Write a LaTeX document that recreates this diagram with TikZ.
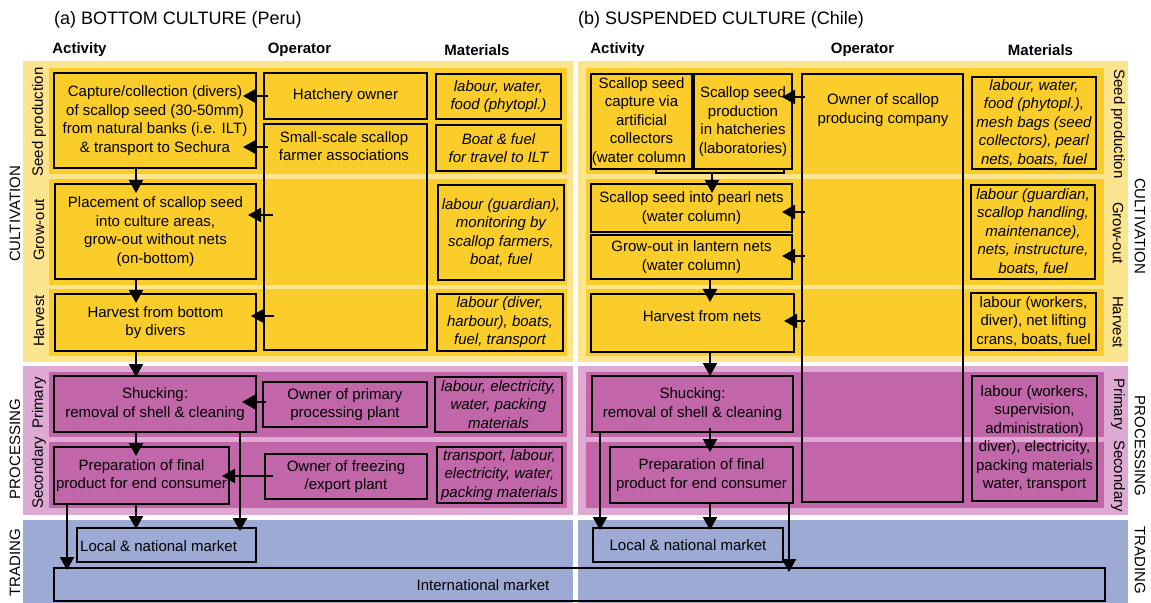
\documentclass[tikz,border=0pt]{standalone}
\usepackage{fontspec}
\setmainfont{Liberation Sans}
\usetikzlibrary{arrows.meta,calc}
\definecolor{ly}{HTML}{FDE48E}
\definecolor{dy}{HTML}{FACD2A}
\definecolor{lp}{HTML}{DEAAD4}
\definecolor{dp}{HTML}{C166A8}
\definecolor{bl}{HTML}{9CAAD4}
\newcommand\mybx[7][]{\node[box,#1,minimum width={(#5-#3)*1bp},minimum height={(#6-#4)*1bp}] (#2) at ({(#3+#5)/2},{(#4+#6)/2}) {#7};}
\tikzset{
  box/.style={draw, line width=2.8bp, inner sep=0pt, outer sep=0pt, align=center, font=\fontsize{15bp}{18.5bp}\selectfont},
  mat/.style={font=\fontsize{15bp}{18.5bp}\selectfont\itshape},
  txt/.style={inner sep=0pt, align=center, font=\fontsize{15bp}{18.5bp}\selectfont},
  ttl/.style={inner sep=0pt, anchor=west, font=\fontsize{18bp}{21bp}\selectfont},
  hdr/.style={inner sep=0pt, font=\fontsize{15bp}{18bp}\selectfont\bfseries},
  side/.style={inner sep=0pt, font=\fontsize{15bp}{18bp}\selectfont},
  arr/.style={line width=2.3bp, -{Triangle[length=13bp,width=14bp]}}
}
\begin{document}
\begin{tikzpicture}[x=1bp,y=-1bp]
\useasboundingbox (0,0) rectangle (1151,603);
% ---- bands ----
\fill[ly] (23,61) rectangle (573,362);
\fill[ly] (578,61) rectangle (1128,362);
\foreach \ya/\yb in {68/174,179/285,289/356}{
  \fill[dy] (49,\ya) rectangle (567,\yb);
  \fill[dy] (586,\ya) rectangle (1104,\yb);
}
\fill[lp] (23,366) rectangle (573,515);
\fill[lp] (578,366) rectangle (1128,515);
\foreach \ya/\yb in {372/437,442/508}{
  \fill[dp] (49,\ya) rectangle (567,\yb);
  \fill[dp] (586,\ya) rectangle (1104,\yb);
}
\fill[bl] (23,520) rectangle (573,603);
\fill[bl] (578,520) rectangle (1128,603);
% ---- titles and headers ----
\node[ttl] (ta) at (54,20) {(a) BOTTOM CULTURE (Peru)};
\node[ttl] (tb) at (578,20) {(b) SUSPENDED CULTURE (Chile)};
\node[hdr] (h1) at (79.5,50) {Activity};
\node[hdr] (h2) at (299.5,50) {Operator};
\node[hdr] (h3) at (477,50) {Materials};
\node[hdr] (h4) at (617.5,50) {Activity};
\node[hdr] (h5) at (862.5,50) {Operator};
\node[hdr] (h6) at (1040.5,50) {Materials};
% ---- side labels ----
\node[side,rotate=90] (sl1) at (15,214) {CULTIVATION};
\node[side,rotate=90] (sl2) at (15,449) {PROCESSING};
\node[side,rotate=90] (sl3) at (15,563) {TRADING};
\node[side,rotate=90] (sl4) at (39,122) {Seed production};
\node[side,rotate=90] (sl5) at (39,230) {Grow-out};
\node[side,rotate=90] (sl6) at (39,321) {Harvest};
\node[side,rotate=90] (sl7) at (39,403) {Primary};
\node[side,rotate=90] (sl8) at (39,473) {Secondary};
\node[side,rotate=-90] (sr1) at (1140,226) {CULTIVATION};
\node[side,rotate=-90] (sr2) at (1140,446) {PROCESSING};
\node[side,rotate=-90] (sr3) at (1140,560) {TRADING};
\node[side,rotate=-90] (sr4) at (1118,124) {Seed production};
\node[side,rotate=-90] (sr5) at (1118,233) {Grow-out};
\node[side,rotate=-90] (sr6) at (1118,322) {Harvest};
\node[side,rotate=-90] (sr7) at (1118,404) {Primary};
\node[side,rotate=-90] (sr8) at (1118,476) {Secondary};
% ---- left panel boxes ----
\mybx{cap}{54}{73}{256}{168}{Capture/collection (divers)\\of scallop seed (30-50mm)\\from natural banks (i.e. ILT)\\\& transport to Sechura}
\mybx{hatch}{264}{73}{427}{119}{Hatchery owner}
\mybx{ss}{264}{124}{427}{350}{}
\node[txt] (sst) at (344,146) {Small-scale scallop\\farmer associations};
\mybx[mat]{m1}{436}{74}{561}{119}{labour, water,\\food (phytopl.)}
\mybx[mat]{m2}{436}{125}{561}{171}{Boat \& fuel\\for travel to ILT}
\mybx{place}{55}{184}{256}{279}{Placement of scallop seed\\into culture areas,\\grow-out without nets\\(on-bottom)}
\mybx[mat]{m3}{438}{185}{564}{280}{labour (guardian),\\monitoring by\\scallop farmers,\\boat, fuel}
\mybx{harv}{55}{294}{256}{351}{Harvest from bottom\\by divers}
\mybx[mat]{m4}{437}{294}{563}{351}{labour (diver,\\harbour), boats,\\fuel, transport}
\mybx{shuck}{54}{376}{256}{432}{Shucking:\\removal of shell \& cleaning}
\mybx{opp}{263}{382}{427}{427}{Owner of primary\\processing plant}
\mybx[mat]{m5}{435}{377}{562}{432}{labour, electricity,\\water, packing\\materials}
\mybx{prep}{54}{447}{229}{504}{Preparation of final\\product for end consumer}
\mybx{opf}{265}{454}{427}{499}{Owner of freezing\\/export plant}
\mybx[mat]{m6}{437}{447}{562}{503}{transport, labour,\\electricity, water,\\packing materials}
\mybx{local}{77}{528}{256}{562}{}
\node[txt,anchor=west] (lct) at (80,546) {Local \& national market};
\mybx{intl}{54}{568}{1105}{601}{}
\node[txt] (itt) at (483,585) {International market};
% ---- right panel boxes ----
\mybx{cap2}{591}{74}{692}{169}{Scallop seed\\capture via\\artificial\\collectors\\(water column\phantom{)}}
\mybx{hat2}{694}{74}{792}{169}{Scallop seed\\production\\in hatcheries\\(laboratories)}
\mybx{own}{802}{74}{963}{502}{}
\node[txt] (owt) at (883,110) {Owner of scallop\\producing company};
\mybx[mat]{m7}{972}{77}{1096}{169}{labour, water,\\food (phytopl.),\\mesh bags (seed\\collectors), pearl\\nets, boats, fuel}
\mybx{pearl}{591}{184}{792}{232}{Scallop seed into pearl nets\\(water column)}
\mybx{lant}{591}{235}{792}{279}{Grow-out in lantern nets\\(water column)}
\mybx[mat]{m8}{971}{185}{1095}{279}{labour (guardian,\\scallop handling,\\maintenance),\\nets, instructure,\\boats, fuel}
\mybx{harv2}{591}{294}{794}{352}{}
\node[txt] (h2t) at (702,316) {Harvest from nets};
\mybx{m9}{971}{293}{1096}{350}{labour (workers,\\diver), net lifting\\crans, boats, fuel}
\mybx{shuck2}{592}{376}{793}{432}{Shucking:\\removal of shell \& cleaning}
\mybx{prep2}{610}{447}{793}{503}{Preparation of final\\product for end consumer}
\mybx{m10}{972}{376}{1097}{501}{labour (workers,\\supervision,\\administration)\\diver), electricity,\\packing materials\\water, transport}
\mybx{local2}{593}{528}{783}{562}{Local \& national market}
% ---- left arrows ----
\draw[arr,shorten >=-9bp] (cap.south -| 136,0) -- (place.north -| 136,0);
\draw[arr,shorten >=-9bp] (place.south -| 136,0) -- (harv.north -| 136,0);
\draw[arr,shorten >=-1bp] (harv.south -| 136,0) -- (shuck.north -| 136,0);
\draw[arr,shorten >=-9bp] (shuck.south -| 136,0) -- (prep.north -| 136,0);
\draw[arr,shorten >=-1bp] (prep.south -| 136,0) -- (local.north -| 136,0);
\draw[arr,shorten >=-3bp] (shuck.south -| 240,0) -- (local.north -| 240,0);
\draw[arr,shorten >=-2bp] (prep.south -| 67,0) -- (intl.north -| 67,0);
\draw[arr,shorten <=-4bp,shorten >=-13bp] (hatch.west |- 0,96) -- (cap.east |- 0,96);
\draw[arr,shorten <=-4bp,shorten >=-13bp] (ss.west |- 0,147) -- (cap.east |- 0,147);
\draw[arr,shorten <=-9bp,shorten >=-8bp] (ss.west |- 0,215) -- (place.east |- 0,215);
\draw[arr,shorten <=-10bp,shorten >=-5bp] (ss.west |- 0,316) -- (harv.east |- 0,316);
\draw[arr,shorten <=-3bp,shorten >=-14bp] (opp.west |- 0,402) -- (shuck.east |- 0,402);
\draw[arr,shorten <=-8bp,shorten >=-7bp] (opf.west |- 0,476) -- (prep.east |- 0,476);
% ---- right arrows ----
\coordinate (brL) at (656,173);
\coordinate (brR) at (784,173);
\coordinate (brM) at (712,173);
\draw[line width=2.5bp] (cap2.south -| brL) -- (brL) -- (brR) -- (hat2.south -| brR);
\draw[arr,shorten >=-9bp] (brM) -- (pearl.north -| brM);
\draw[arr,shorten >=-8bp] (lant.south -| 710,0) -- (harv2.north -| 710,0);
\draw[arr] (harv2.south -| 710,0) -- (shuck2.north -| 710,0);
\draw[arr,shorten <=-4bp,shorten >=-5bp] (shuck2.south -| 710,0) -- (prep2.north -| 710,0);
\draw[arr,shorten >=-2bp] (prep2.south -| 710,0) -- (local2.north -| 710,0);
\draw[arr,shorten >=-2bp] (shuck2.south -| 600,0) -- (local2.north -| 600,0);
\draw[arr,shorten >=-4bp] (prep2.south -| 789,0) -- (intl.north -| 789,0);
\foreach \yy/\tg in {97/hat2,212/pearl,256/lant,321/harv2}
  \draw[arr,shorten <=-3bp,shorten >=-10bp] (own.west |- 0,\yy) -- (\tg.east |- 0,\yy);
\end{tikzpicture}
\end{document}
